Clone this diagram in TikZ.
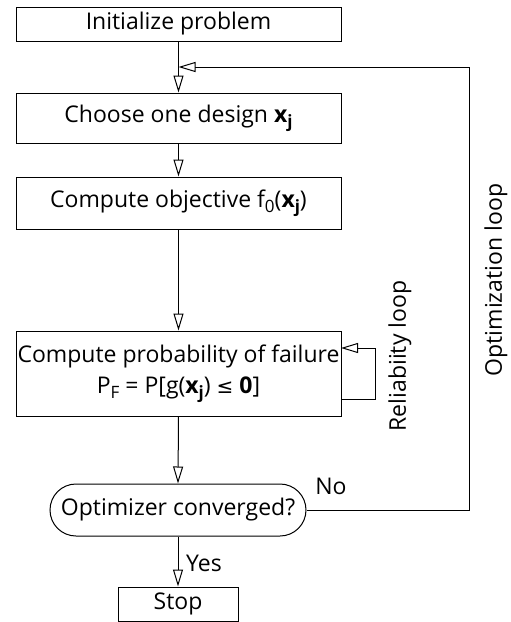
\documentclass[tikz,border=0pt]{standalone}
\usepackage{fontspec}
\setmainfont{Open Sans}
\newfontfamily\symfont{DejaVu Sans}
\usetikzlibrary{arrows.meta}
\newcommand{\bx}{\textbf{x}}
\newcommand{\sbs}[1]{\raisebox{-0.4ex}{\fontsize{17}{17}\selectfont #1}}
\begin{document}
\begin{tikzpicture}[x=1pt,y=-1pt,
  every node/.style={font=\fontsize{23}{27}\selectfont, inner sep=0pt},
  box/.style={draw, line width=1pt, minimum width=325pt, align=center},
  flow/.style={line width=1pt, -{Triangle[open,length=17pt,width=10pt]}}]
\useasboundingbox (0,0) rectangle (511,622);
\node[box, minimum height=34pt] (init) at (178.5,24) {Initialize problem};
\node[box, minimum height=50pt] (choose) at (178.5,118) {Choose one design \bx\sbs{\textbf{j}}};
\node[box, minimum height=52pt] (obj) at (178.5,203) {Compute objective f\sbs{0}(\bx\sbs{\textbf{j}})};
\node[box, minimum height=85pt, font=\fontsize{23}{31}\selectfont] (prob) at (178.5,373.5) {Compute probability of failure\\P\sbs{F} = P[g(\bx\sbs{\textbf{j}}) {\symfont\fontsize{20}{20}\selectfont ≤} \textbf{0}]};
\node[draw, line width=1pt, minimum width=256pt, minimum height=52pt, rounded corners=26pt] (opt) at (178,510) {Optimizer converged?};
\node[draw, line width=1pt, minimum width=120pt, minimum height=34pt] (stop) at (178,604) {Stop};
\coordinate (j) at (178.5,67);
\coordinate (c1) at (469,510);
\coordinate (c2) at (469,67);
\coordinate (r1) at (375,399);
\coordinate (r2) at (375,348);
\coordinate (r3) at (341,348);
\draw[flow] (init.south) -- (choose.north);
\draw[flow] (choose.south) -- (obj.north);
\draw[flow] (obj.south) -- (prob.north);
\draw[flow] (prob.south) -- (opt.north);
\draw[flow] (opt.south) -- (stop.north);
\draw[flow] (opt.east) -- (c1) -- (c2) -- (j);
\draw[flow] ([yshift=-25.5pt]prob.east) -- (r1) -- (r2) -- (r3);
\node (no) at (331,486) {No};
\node (yes) at (204,563) {Yes};
\node[rotate=90] (rel) at (400,356) {Reliabiity loop};
\node[rotate=90] (optl) at (496,280) {Optimization loop};
\end{tikzpicture}
\end{document}
